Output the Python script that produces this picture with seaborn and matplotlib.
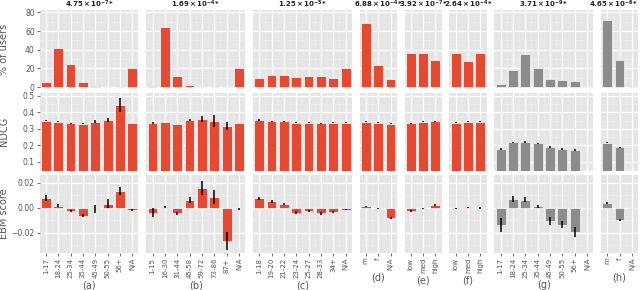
import matplotlib
matplotlib.use("Agg")
import matplotlib.pyplot as plt
import seaborn as sns
import numpy as np
from matplotlib.ticker import FixedLocator, AutoMinorLocator

plt.style.use("ggplot")

# ---------------- data ----------------
cats_a = ["1-17", "18-24", "25-34", "35-44", "45-49", "50-55", "56+", "N/A"]
cats_b = ["1-15", "16-30", "31-44", "45-58", "59-72", "73-86", "87+", "N/A"]
cats_c = ["1-18", "19-20", "21-22", "23-24", "25-27", "28-33", "34+", "N/A"]
cats_d = ["m", "f", "N/A"]
cats_e = ["low", "med", "high"]
cats_f = ["low", "med", "high"]
cats_g = ["1-17", "18-24", "25-34", "35-44", "45-49", "50-55", "56+", "N/A"]
cats_h = ["m", "f", "N/A"]

titles = [r"$\mathbf{4.75\times10^{-7}}$*", r"$\mathbf{1.69\times10^{-4}}$*",
          r"$\mathbf{1.25\times10^{-5}}$*", r"$\mathbf{6.88\times10^{-4}}$*",
          r"$\mathbf{3.92\times10^{-7}}$*", r"$\mathbf{2.64\times10^{-4}}$*",
          r"$\mathbf{3.71\times10^{-9}}$*", r"$\mathbf{4.65\times10^{-6}}$*"]
panel_labels = ["(a)", "(b)", "(c)", "(d)", "(e)", "(f)", "(g)", "(h)"]

pct_a = [5.5, 41.5, 24.5, 6.0, 1.0, 0.7, 0.2, 20.5]
pct_b = [1.5, 64.5, 12.5, 2.0, 0.5, 0.2, 0.1, 20.3]
pct_c = [10.2, 13.0, 13.5, 11.2, 11.6, 12.3, 10.2, 20.3]
pct_d = [68.5, 23.9, 9.1]
pct_e = [36.5, 36.5, 28.7]
pct_f = [36.5, 28.0, 36.2]
pct_g = [3.9, 18.6, 35.5, 20.0, 9.1, 8.1, 6.7, 0.0]
pct_h = [72.3, 28.7, 0.0]

ndcg_a = [0.350, 0.343, 0.333, 0.330, 0.343, 0.354, 0.443, 0.335]
ndcg_b = [0.333, 0.341, 0.329, 0.356, 0.358, 0.349, 0.318, 0.335]
ndcg_c = [0.353, 0.346, 0.346, 0.338, 0.338, 0.333, 0.338, 0.338]
ndcg_d = [0.343, 0.338, 0.330]
ndcg_e = [0.333, 0.343, 0.346]
ndcg_f = [0.338, 0.343, 0.343]
ndcg_g = [0.180, 0.218, 0.220, 0.212, 0.190, 0.177, 0.169, 0.0]
ndcg_h = [0.216, 0.188, 0.0]

ndcg_err_a = [0.004, 0.002, 0.002, 0.003, 0.008, 0.010, 0.042, 0.002]
ndcg_err_b = [0.007, 0.002, 0.002, 0.006, 0.018, 0.037, 0.025, 0.002]
ndcg_err_c = [0.004, 0.003, 0.002, 0.002, 0.002, 0.002, 0.002, 0.002]
ndcg_err_d = [0.002, 0.002, 0.002]
ndcg_err_e = [0.002, 0.002, 0.002]
ndcg_err_f = [0.002, 0.002, 0.002]
ndcg_err_g = [0.006, 0.004, 0.004, 0.004, 0.005, 0.004, 0.006, 0.0]
ndcg_err_h = [0.003, 0.003, 0.0]

ebm_a = [0.0078, 0.0018, -0.0028, -0.0062, -0.0008, 0.0032, 0.0133, -0.0017]
ebm_b = [-0.0040, 0.0007, -0.0045, 0.0062, 0.0155, 0.0088, -0.0265, -0.0010]
ebm_c = [0.0075, 0.0050, 0.0030, -0.0038, -0.0025, -0.0045, -0.0037, -0.0015]
ebm_d = [0.0012, -0.0003, -0.0085]
ebm_e = [-0.0025, -0.0003, 0.0025]
ebm_f = [-0.0008, 0.0005, -0.0002]
ebm_g = [-0.0140, 0.0068, 0.0062, 0.0012, -0.0105, -0.0135, -0.0192, 0.0]
ebm_h = [0.0038, -0.0098, 0.0]

ebm_err_a = [0.0025, 0.0010, 0.0008, 0.0015, 0.0030, 0.0035, 0.0030, 0.0005]
ebm_err_b = [0.0035, 0.0005, 0.0010, 0.0025, 0.0055, 0.0055, 0.0075, 0.0005]
ebm_err_c = [0.0012, 0.0010, 0.0007, 0.0010, 0.0008, 0.0010, 0.0008, 0.0006]
ebm_err_d = [0.0005, 0.0004, 0.0008]
ebm_err_e = [0.0007, 0.0005, 0.0008]
ebm_err_f = [0.0005, 0.0005, 0.0005]
ebm_err_g = [0.0057, 0.0025, 0.0020, 0.0010, 0.0030, 0.0030, 0.0040, 0.0]
ebm_err_h = [0.0010, 0.0006, 0.0]

RED = "#E24A33"
GRAY = "#8C8C8C"
panel_colors = [RED, RED, RED, RED, RED, RED, GRAY, GRAY]

cats_all = [cats_a, cats_b, cats_c, cats_d, cats_e, cats_f, cats_g, cats_h]
rows = [
    ([pct_a, pct_b, pct_c, pct_d, pct_e, pct_f, pct_g, pct_h], None, "% of users",
     (-1, 82), [0, 20, 40, 60, 80]),
    ([ndcg_a, ndcg_b, ndcg_c, ndcg_d, ndcg_e, ndcg_f, ndcg_g, ndcg_h],
     [ndcg_err_a, ndcg_err_b, ndcg_err_c, ndcg_err_d, ndcg_err_e, ndcg_err_f, ndcg_err_g, ndcg_err_h],
     "NDCG", (0.047, 0.518), [0.1, 0.2, 0.3, 0.4, 0.5]),
    ([ebm_a, ebm_b, ebm_c, ebm_d, ebm_e, ebm_f, ebm_g, ebm_h],
     [ebm_err_a, ebm_err_b, ebm_err_c, ebm_err_d, ebm_err_e, ebm_err_f, ebm_err_g, ebm_err_h],
     "EBM score", (-0.036, 0.026), [-0.02, 0.0, 0.02]),
]

# ---------------- figure ----------------
fig = plt.figure(figsize=(6.4, 2.9), dpi=100)
widths = [len(c) for c in cats_all]
gs = fig.add_gridspec(3, 8, width_ratios=widths, left=0.062, right=0.997,
                      top=0.964, bottom=0.128, wspace=0.116, hspace=0.06)

for r, (vals_list, errs_list, ylabel, ylim, yticks) in enumerate(rows):
    for c in range(8):
        ax = fig.add_subplot(gs[r, c])
        cats = cats_all[c]
        vals = vals_list[c]
        sns.barplot(x=cats, y=vals, color=panel_colors[c], ax=ax, errorbar=None,
                    edgecolor="#EEEEEE", linewidth=0.6, saturation=1, width=0.8)
        if errs_list is not None:
            ax.errorbar(np.arange(len(cats)), vals, yerr=errs_list[c], fmt="none",
                        ecolor="black", elinewidth=1.1, capsize=0, zorder=5)
        ax.set_ylim(*ylim)
        ax.set_xlim(-0.5, len(cats) - 0.5)
        ax.set_yticks(yticks)
        ax.yaxis.set_minor_locator(AutoMinorLocator(2))
        ax.xaxis.set_minor_locator(FixedLocator(np.arange(len(cats) - 1) + 0.5))
        ax.grid(which="major", color="white", linewidth=0.9)
        ax.grid(which="minor", color="white", linestyle=":", linewidth=0.5, alpha=0.8)
        ax.set_axisbelow(True)
        for sp in ax.spines.values():
            sp.set_visible(False)
        ax.tick_params(which="minor", length=0)
        ax.tick_params(axis="both", which="major", labelsize=5.5, colors="#555555",
                       length=2.0, width=0.6, pad=1.5)
        ax.set_ylabel("")
        ax.set_xlabel("")
        if c == 0:
            ax.set_ylabel(ylabel, fontsize=7, color="#555555", labelpad=2)
            if r == 2:
                ax.set_yticklabels(["\u22120.02", "0.00", "0.02"])
        else:
            ax.tick_params(axis="y", labelleft=False, left=False)
        if r == 0:
            ax.set_title(titles[c], fontsize=5.0, fontweight="bold", color="#222222",
                         pad=1.0, loc=("right" if c == 7 else "center"))
        if r < 2:
            ax.tick_params(axis="x", labelbottom=False, bottom=False)
        else:
            ax.set_xticks(np.arange(len(cats)))
            ax.set_xticklabels(cats, rotation=90, fontsize=5)
            ax.set_xlabel(panel_labels[c], fontsize=7, color="#555555", labelpad=1.5)

fig.align_ylabels()
fig.savefig("out.png", dpi=100)
